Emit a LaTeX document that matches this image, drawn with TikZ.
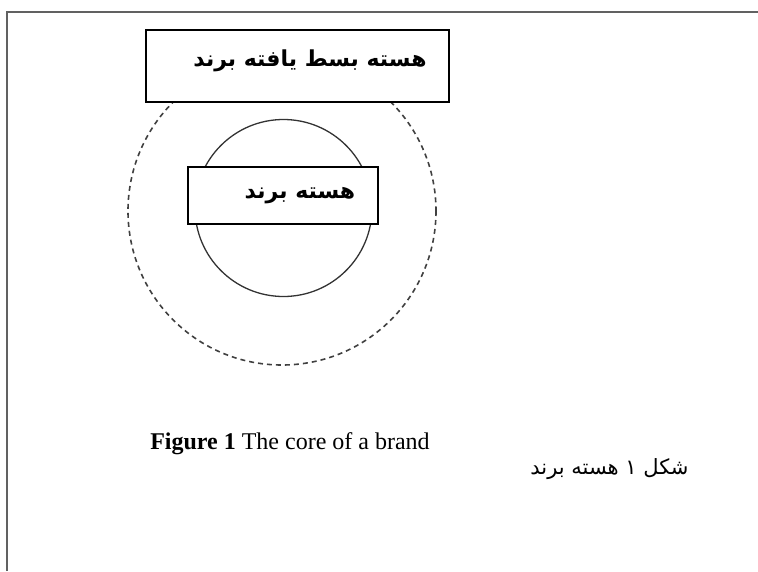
\documentclass[tikz,border=0pt]{standalone}
\usepackage{fontspec}
\setmainfont{Liberation Serif}
\newfontfamily\arabicfont[Script=Arabic]{DejaVu Sans}
\TeXXeTstate=1
\begin{document}
\begin{tikzpicture}[x=1pt,y=-1pt,
  frameline/.style={draw=black!62,line width=2pt},
  labelbox/.style={draw=black,line width=1.4pt,fill=white,inner sep=0pt},
  coreline/.style={draw=black!80,line width=1.3pt},
  outerline/.style={draw=black!75,line width=1.6pt,dash pattern=on 5pt off 4pt},
  fatext/.style={inner sep=0pt,font=\arabicfont\bfseries\fontsize{22}{26}\selectfont}]
\useasboundingbox (0,0) rectangle (758,571);
% page frame: only its top and left edges fall inside the picture
\coordinate (fbl) at (7,571);
\coordinate (ftl) at (7,12);
\coordinate (ftr) at (758,12);
\draw[frameline] (fbl) -- (ftl) -- (ftr);
% extended core (dashed) and core (solid)
\draw[outerline] (282,211) circle (154);
\draw[coreline] (283.5,208) circle (88.5);
% labels on white boxes
\node[labelbox,minimum width=303pt,minimum height=72pt] (extbox) at (297.5,66) {};
\node[fatext] (exttext) at (310,61) {\beginR هسته بسط یافته برند\endR};
\node[labelbox,minimum width=190pt,minimum height=57pt] (corebox) at (283,195.5) {};
\node[fatext] (coretext) at (300,196) {\beginR هسته برند\endR};
% captions
\node[inner sep=0pt,font=\fontsize{24}{28}\selectfont] (encap) at (290,444) {\textbf{Figure 1} The core of a brand};
\node[inner sep=0pt,font=\arabicfont\fontsize{21}{25}\selectfont] (facap) at (609.5,469) {\beginR شکل ۱ هسته برند\endR};
\end{tikzpicture}
\end{document}
